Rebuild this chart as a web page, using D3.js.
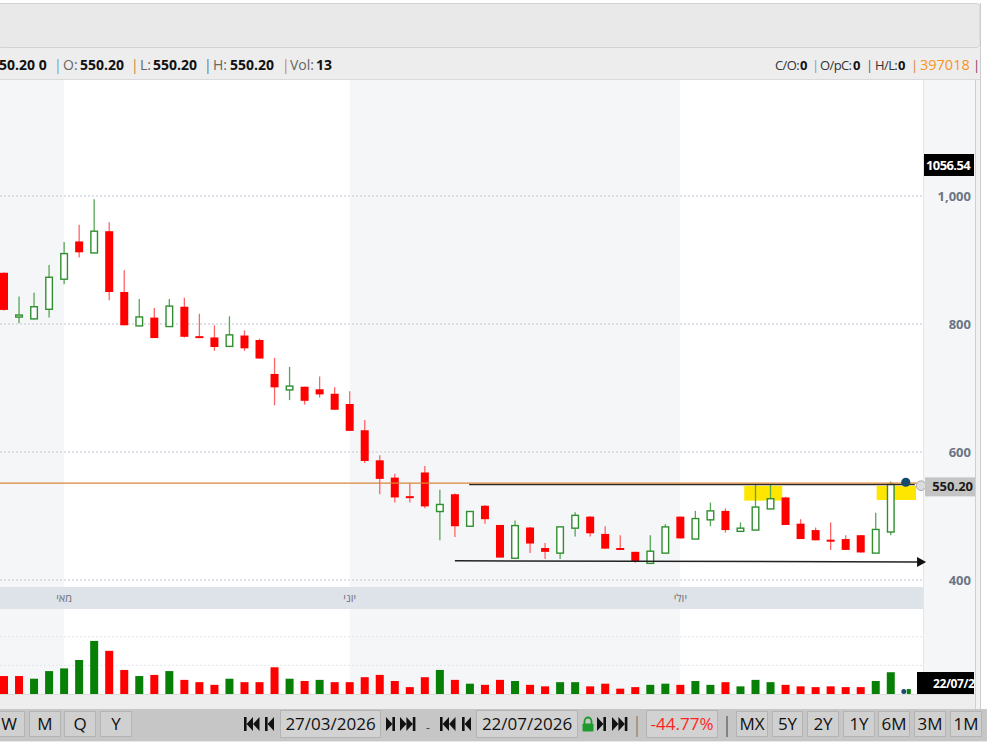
<!DOCTYPE html>
<html lang="he">
<head>
<meta charset="utf-8">
<title>Candles</title>
<script src="https://d3js.org/d3.v7.min.js"></script>
<style>
    body { margin: 0; background: #ffffff; overflow: hidden; }
    svg { display: block; font-family: "Open Sans", Arial, sans-serif; }
</style>
</head>
<body>
<svg id="chart" width="987" height="742"></svg>
<script>
// daily candles, left to right (first one is cut by the left edge, last is the live tick)
const opens  = [880, 812, 808, 823, 870, 929, 911, 945, 850, 797, 810, 796, 827, 781, 779, 765, 782, 775, 722, 697,
                702, 698, 691, 675, 634, 587, 560, 531, 568, 507, 534, 484, 516, 486, 434, 482, 450, 442, 481, 499,
                472, 450, 444, 426, 442, 499, 464, 494, 508, 476, 478, 511, 529, 488, 478, 463, 464, 470, 442, 475, 550.2];
const highs  = [881, 843, 849, 892, 928, 955, 995, 959, 884, 839, 825, 839, 841, 816, 798, 812, 790, 777, 747, 733,
                702, 718, 701, 695, 650, 595, 566, 551, 578, 541, 535, 507, 517, 486, 493, 483, 458, 483, 506, 500,
                484, 470, 444, 470, 487, 499, 508, 521, 512, 490, 550, 550, 530, 495, 482, 490, 470, 470, 505, 554, 550.2];
const lows   = [821, 801, 807, 810, 862, 904, 911, 837, 798, 797, 778, 796, 779, 778, 758, 765, 758, 746, 673, 681,
                674, 685, 666, 633, 583, 534, 521, 521, 512, 462, 467, 483, 488, 435, 434, 442, 433, 433, 468, 468,
                449, 448, 427, 426, 442, 465, 464, 484, 474, 476, 478, 511, 486, 464, 462, 447, 447, 443, 442, 470, 550.2];
const closes = [822, 814, 827, 873, 910, 912, 945, 850, 798, 811, 778, 828, 780, 778, 764, 783, 762, 746, 701, 703,
                680, 690, 666, 633, 586, 558, 529, 528, 515, 518, 484, 507, 495, 435, 485, 457, 444, 483, 501, 473,
                449, 448, 429, 445, 483, 465, 496, 508, 478, 481, 514, 527, 486, 464, 462, 461, 447, 443, 479, 550, 550.2];
const volumes = [47, 47, 40, 60, 67, 89, 139, 113, 63, 47, 50, 60, 37, 31, 24, 40, 31, 31, 70, 40,
                 34, 37, 31, 31, 44, 50, 34, 18, 44, 63, 37, 27, 24, 37, 34, 24, 20, 31, 31, 20,
                 27, 14, 18, 24, 27, 24, 34, 24, 31, 20, 37, 31, 24, 20, 18, 20, 18, 18, 34, 57, 13];

const monthLabels = ["מאי", "יוני", "יולי"];
const monthStart  = [4, 23, 45];
const priceTicks  = [400, 600, 800, 1000];
const priceTickLabels = ["400", "600", "800", "1,000"];
const volTicks    = [75, 150];

const lastPrice = 550.20;
const cursorPrice = 1056.54;
const cursorDate = "22/07/2026";

// drawn annotations (index / price coordinates)
const resistance = [[30.95, 549.2], [60.6, 549.2]];
const support    = [[30.0, 430.0], [61.35, 428.3]];
const boxesX     = [[49.25, 51.78], [58.06, 60.68]];
const boxesY     = [[547, 524], [547, 525]];

const W = 987, H = 742;
const plotR = 923;
const svg = d3.select("#chart");

const x = d3.scaleLinear().domain([0, 60]).range([4, 905.8]);
const y = d3.scaleLinear().domain([400, 1000]).range([580, 196]);
const yv = d3.scaleLinear().domain([0, 150]).range([694, 636.7]);

// ---------- frame ----------
svg.append("rect").attr("width", W).attr("height", H).attr("fill", "#ffffff");
svg.append("rect").attr("x", -2).attr("y", 3.5).attr("width", 982).attr("height", 44).attr("rx", 3)
    .attr("fill", "#e9e9e9").attr("stroke", "#d2d2d2");
svg.append("rect").attr("x", 0).attr("y", 48).attr("width", 981).attr("height", 32).attr("fill", "#ededed");
svg.append("line").attr("x1", 0).attr("x2", 981).attr("y1", 79.5).attr("y2", 79.5).attr("stroke", "#dadada");

// month bands in price and volume panels
const bandEdges = [0].concat(monthStart.map(d => x(d))).concat([plotR]);
for (let i = 0; i < bandEdges.length - 1; i++) {
    const fill = i % 2 === 0 ? "#f5f6f8" : "#ffffff";
    svg.append("rect").attr("x", bandEdges[i]).attr("y", 80)
        .attr("width", bandEdges[i + 1] - bandEdges[i]).attr("height", 507).attr("fill", fill);
    svg.append("rect").attr("x", bandEdges[i]).attr("y", 609)
        .attr("width", bandEdges[i + 1] - bandEdges[i]).attr("height", 85).attr("fill", fill);
}

// right axis column
svg.append("rect").attr("x", plotR).attr("y", 80).attr("width", 52).attr("height", 629).attr("fill", "#f5f6f8");
svg.append("line").attr("x1", plotR + 0.5).attr("x2", plotR + 0.5).attr("y1", 80).attr("y2", 709).attr("stroke", "#e4e6ea");
svg.append("rect").attr("x", 975).attr("y", 80).attr("width", 6).attr("height", 629).attr("fill", "#f2f2f2");
svg.append("line").attr("x1", 975.5).attr("x2", 975.5).attr("y1", 80).attr("y2", 709).attr("stroke", "#d0d0d0");
svg.append("line").attr("x1", 980.5).attr("x2", 980.5).attr("y1", 3).attr("y2", 709).attr("stroke", "#cccccc");

// x axis strip with month names
svg.append("rect").attr("x", 0).attr("y", 587).attr("width", plotR).attr("height", 22).attr("fill", "#dee2e9");
svg.selectAll(".month").data(monthLabels).enter().append("text")
    .attr("x", (d, i) => x(monthStart[i]))
    .attr("y", 602)
    .attr("text-anchor", "middle")
    .attr("font-size", 11)
    .attr("fill", "#6f7277")
    .text(d => d);

// grid
svg.selectAll(".grid").data(priceTicks).enter().append("line")
    .attr("x1", 0).attr("x2", plotR)
    .attr("y1", d => y(d)).attr("y2", d => y(d))
    .attr("stroke", "#d3d8df").attr("stroke-width", 1.5).attr("stroke-dasharray", "2,2");
svg.selectAll(".vgrid").data(volTicks).enter().append("line")
    .attr("x1", 0).attr("x2", plotR)
    .attr("y1", d => yv(d)).attr("y2", d => yv(d))
    .attr("stroke", "#e2e5ea").attr("stroke-width", 1).attr("stroke-dasharray", "2,2");

// right price axis
const rightAxis = d3.axisRight(y).tickValues(priceTicks).tickSize(0)
    .tickFormat((d, i) => priceTickLabels[i]);
const ax = svg.append("g").attr("transform", "translate(971,0)").call(rightAxis);
ax.select(".domain").remove();
ax.selectAll("text").attr("x", 0).attr("text-anchor", "end")
    .attr("font-family", "\"Open Sans\", Arial, sans-serif")
    .attr("font-size", 13).attr("font-weight", "bold").attr("fill", "#6b7585");

// ---------- plot ----------
const clip = svg.append("clipPath").attr("id", "plotClip");
clip.append("rect").attr("x", 0).attr("y", 80).attr("width", plotR).attr("height", 507);
const plot = svg.append("g").attr("clip-path", "url(#plotClip)");

// yellow highlight boxes (behind candles)
plot.selectAll(".hl").data(boxesX).enter().append("rect")
    .attr("x", d => x(d[0])).attr("width", d => x(d[1]) - x(d[0]))
    .attr("y", (d, i) => y(boxesY[i][0])).attr("height", (d, i) => y(boxesY[i][1]) - y(boxesY[i][0]))
    .attr("fill", "#ffe600");

const candles = d3.range(opens.length - 1);
const bw = 8;

plot.selectAll(".wick").data(candles).enter().append("line")
    .attr("x1", i => x(i)).attr("x2", i => x(i))
    .attr("y1", i => y(highs[i])).attr("y2", i => y(lows[i]))
    .attr("stroke", i => closes[i] >= opens[i] ? "#55a655" : "#ff6464")
    .attr("stroke-width", 1.3);

plot.selectAll(".body").data(candles).enter().append("rect")
    .attr("x", i => closes[i] >= opens[i] ? x(i) - bw / 2 + 0.7 : x(i) - bw / 2)
    .attr("width", i => closes[i] >= opens[i] ? bw - 1.4 : bw)
    .attr("y", i => y(Math.max(opens[i], closes[i])))
    .attr("height", i => Math.max(2, Math.abs(y(opens[i]) - y(closes[i]))))
    .attr("fill", i => closes[i] >= opens[i] ? "#ffffff" : "#ff0000")
    .attr("stroke", i => closes[i] >= opens[i] ? "#2f8f2f" : "none")
    .attr("stroke-width", 1.4);

// resistance line and last price line
plot.append("line")
    .attr("x1", x(resistance[0][0])).attr("x2", x(resistance[1][0]))
    .attr("y1", y(resistance[0][1])).attr("y2", y(resistance[1][1]))
    .attr("stroke", "#2b2b2b").attr("stroke-width", 1.6);
plot.append("line")
    .attr("x1", 0).attr("x2", plotR)
    .attr("y1", y(lastPrice) - 0.8).attr("y2", y(lastPrice) - 0.8)
    .attr("stroke", "#d8863a").attr("stroke-width", 1.2);

// support arrow
svg.append("line")
    .attr("x1", x(support[0][0])).attr("x2", x(support[1][0]) - 8)
    .attr("y1", y(support[0][1])).attr("y2", y(support[1][1]))
    .attr("stroke", "#222").attr("stroke-width", 1.5);
const tipX = x(support[1][0]), tipY = y(support[1][1]);
svg.append("path")
    .attr("d", `M${tipX},${tipY} L${tipX - 9},${tipY - 5} L${tipX - 9},${tipY + 5} Z`)
    .attr("fill", "#111");

// live tick marker
svg.append("circle").attr("cx", x(60)).attr("cy", y(lastPrice) - 1.6).attr("r", 4.6).attr("fill", "#174a6b");
svg.append("circle").attr("cx", 921).attr("cy", y(lastPrice) + 1.8).attr("r", 4.8)
    .attr("fill", "#dcdcdc").attr("stroke", "#a9a9a9").attr("stroke-width", 1);

// price labels on the axis
svg.append("rect").attr("x", 925).attr("y", y(lastPrice) - 6.5).attr("width", 50).attr("height", 19).attr("fill", "#c4c4c4");
svg.append("text").attr("x", 973).attr("y", y(lastPrice) + 7.6).attr("text-anchor", "end")
    .attr("font-size", 13).attr("font-weight", "bold").attr("fill", "#1a1a1a").text(lastPrice.toFixed(2));
const pclip = svg.append("clipPath").attr("id", "priceClip");
pclip.append("rect").attr("x", 924).attr("y", 154).attr("width", 50).attr("height", 22);
svg.append("rect").attr("x", 924).attr("y", 154).attr("width", 50).attr("height", 22).attr("fill", "#000");
svg.append("text").attr("x", 926).attr("y", 170).attr("clip-path", "url(#priceClip)")
    .attr("font-size", 13).attr("font-weight", "bold").attr("fill", "#ffffff")
    .attr("letter-spacing", "-0.6").text(cursorPrice.toFixed(2));

// ---------- volume ----------
const vols = d3.range(volumes.length);
const volUp = i => i === 0 ? closes[i] >= opens[i] : closes[i] >= closes[i - 1];
svg.selectAll(".vol").data(vols).enter().append("rect")
    .attr("x", i => i === vols.length - 1 ? x(i) + 1 : x(i) - bw / 2)
    .attr("width", i => i === vols.length - 1 ? 4 : bw)
    .attr("y", i => yv(volumes[i]))
    .attr("height", i => yv(0) - yv(volumes[i]))
    .attr("fill", i => volUp(i) ? "#088008" : "#ff0000");
svg.append("circle").attr("cx", x(60) - 2).attr("cy", 691.5).attr("r", 2.5).attr("fill", "#174a6b");
svg.append("line").attr("x1", 0).attr("x2", 975).attr("y1", 694.5).attr("y2", 694.5).attr("stroke", "#dddddd");
svg.append("rect").attr("x", 0).attr("y", 695).attr("width", 975).attr("height", 14).attr("fill", "#eeeeee");

const vclip = svg.append("clipPath").attr("id", "dateClip");
vclip.append("rect").attr("x", 917).attr("y", 672).attr("width", 57).attr("height", 22);
svg.append("rect").attr("x", 917).attr("y", 672).attr("width", 57).attr("height", 22).attr("fill", "#000");
svg.append("text").attr("x", 933).attr("y", 688).attr("clip-path", "url(#dateClip)")
    .attr("font-size", 12).attr("font-weight", "bold").attr("fill", "#fff")
    .attr("letter-spacing", "-0.4").text(cursorDate);

// ---------- info row ----------
const info = svg.append("g").attr("font-size", 14);
function piece(g, px, txt, color, bold, ls) {
    g.append("text").attr("x", px).attr("y", 70).attr("fill", color)
        .attr("font-weight", bold ? "bold" : "normal")
        .attr("letter-spacing", ls || 0).text(txt);
}
piece(info, -9, "550.20 0", "#111", true);
piece(info, 54, "|", "#6b9bd1", false);
piece(info, 63, "O:", "#666", false);
piece(info, 80, "550.20", "#111", true);
piece(info, 131, "|", "#c8843c", false);
piece(info, 140, "L:", "#666", false);
piece(info, 153, "550.20", "#111", true);
piece(info, 204, "|", "#5f6fa5", false);
piece(info, 213, "H:", "#666", false);
piece(info, 230, "550.20", "#111", true);
piece(info, 282, "|", "#c8843c", false);
piece(info, 290, "Vol:", "#666", false);
piece(info, 316, "13", "#111", true);

const infoR = svg.append("g").attr("font-size", 13);
piece(infoR, 775, "C/O:", "#333", false, -0.6);
piece(infoR, 800, "0", "#111", true);
piece(infoR, 812, "|", "#6b9bd1", false);
piece(infoR, 820, "O/pC:", "#333", false, -0.6);
piece(infoR, 853, "0", "#111", true);
piece(infoR, 866, "|", "#555", false);
piece(infoR, 875, "H/L:", "#333", false, -0.6);
piece(infoR, 898, "0", "#111", true);
piece(infoR, 911, "|", "#c8843c", false);
infoR.append("text").attr("x", 920).attr("y", 70).attr("font-size", 14.5)
    .attr("fill", "#f7941d").text("397018");
piece(infoR, 973, "|", "#8b3a62", false);

// ---------- toolbar ----------
svg.append("rect").attr("x", 0).attr("y", 709).attr("width", W).attr("height", 33).attr("fill", "#c6c6c6");
svg.append("line").attr("x1", 0).attr("x2", W).attr("y1", 741.5).attr("y2", 741.5).attr("stroke", "#e8e8e8");

const tb = svg.append("g").attr("font-size", 17).attr("font-family", "\"Open Sans\", Arial, sans-serif");
const buttons = [
    ["W", -7, 31], ["M", 29, 31], ["Q", 64, 31], ["Y", 100, 31],
    ["MX", 736, 31], ["5Y", 772, 30], ["2Y", 807, 31], ["1Y", 843, 31],
    ["6M", 878, 31], ["3M", 914, 31], ["1M", 950, 31]
];
buttons.forEach(b => {
    tb.append("rect").attr("x", b[1] + 0.5).attr("y", 711.5).attr("width", b[2]).attr("height", 25)
        .attr("fill", "#d0d0d0").attr("stroke", "#b4b4b4");
    tb.append("text").attr("x", b[1] + b[2] / 2 + 0.5).attr("y", 730).attr("text-anchor", "middle")
        .attr("fill", "#111").text(b[0]);
});
[["27/03/2026", 280, 100], ["22/07/2026", 476, 101], ["-44.77%", 646, 71]].forEach((b, i) => {
    tb.append("rect").attr("x", b[1] + 0.5).attr("y", 710.5).attr("width", b[2]).attr("height", 27)
        .attr("fill", "#d2d2d2").attr("stroke", "#b4b4b4");
    tb.append("text").attr("x", b[1] + b[2] / 2 + 0.5).attr("y", 730).attr("text-anchor", "middle")
        .attr("fill", i === 2 ? "#ff2424" : "#111").text(b[0]);
});
tb.append("text").attr("x", 428).attr("y", 732).attr("text-anchor", "middle").attr("fill", "#444").attr("font-size", 12).text("-");
tb.append("line").attr("x1", 637).attr("x2", 637).attr("y1", 716).attr("y2", 737).attr("stroke", "#9a7a55").attr("stroke-width", 1.2);
tb.append("line").attr("x1", 727).attr("x2", 727).attr("y1", 716).attr("y2", 737).attr("stroke", "#555").attr("stroke-width", 1.2);

// navigation glyphs
function navFirst(x0) {   // |<<
    return `M${x0},717 h2.6 v14 h-2.6 Z M${x0 + 9},717 l-6.4,7 l6.4,7 Z M${x0 + 15.5},717 l-6.4,7 l6.4,7 Z`;
}
function navPrev(x0) {    // |<
    return `M${x0},717 h2.6 v14 h-2.6 Z M${x0 + 9},717 l-6.4,7 l6.4,7 Z`;
}
function navNext(x0) {    // >|
    return `M${x0},717 l6.4,7 l-6.4,7 Z M${x0 + 6.4},717 h2.6 v14 h-2.6 Z`;
}
function navLast(x0) {    // >>|
    return `M${x0},717 l6.4,7 l-6.4,7 Z M${x0 + 6.4},717 l6.4,7 l-6.4,7 Z M${x0 + 12.8},717 h2.6 v14 h-2.6 Z`;
}
const navPaths = [navFirst(244), navPrev(265), navNext(386), navLast(400),
                  navFirst(440), navPrev(462), navNext(597), navLast(612)];
tb.selectAll(".nav").data(navPaths).enter().append("path").attr("d", d => d).attr("fill", "#111");

// lock icon
tb.append("path").attr("d", "M584.5,724 v-3 a3.5,3.5 0 0 1 7,0 v3")
    .attr("fill", "none").attr("stroke", "#1f9a2f").attr("stroke-width", 1.8);
tb.append("rect").attr("x", 582.5).attr("y", 723.5).attr("width", 11).attr("height", 8).attr("rx", 1).attr("fill", "#1f9a2f");
</script>
</body>
</html>
